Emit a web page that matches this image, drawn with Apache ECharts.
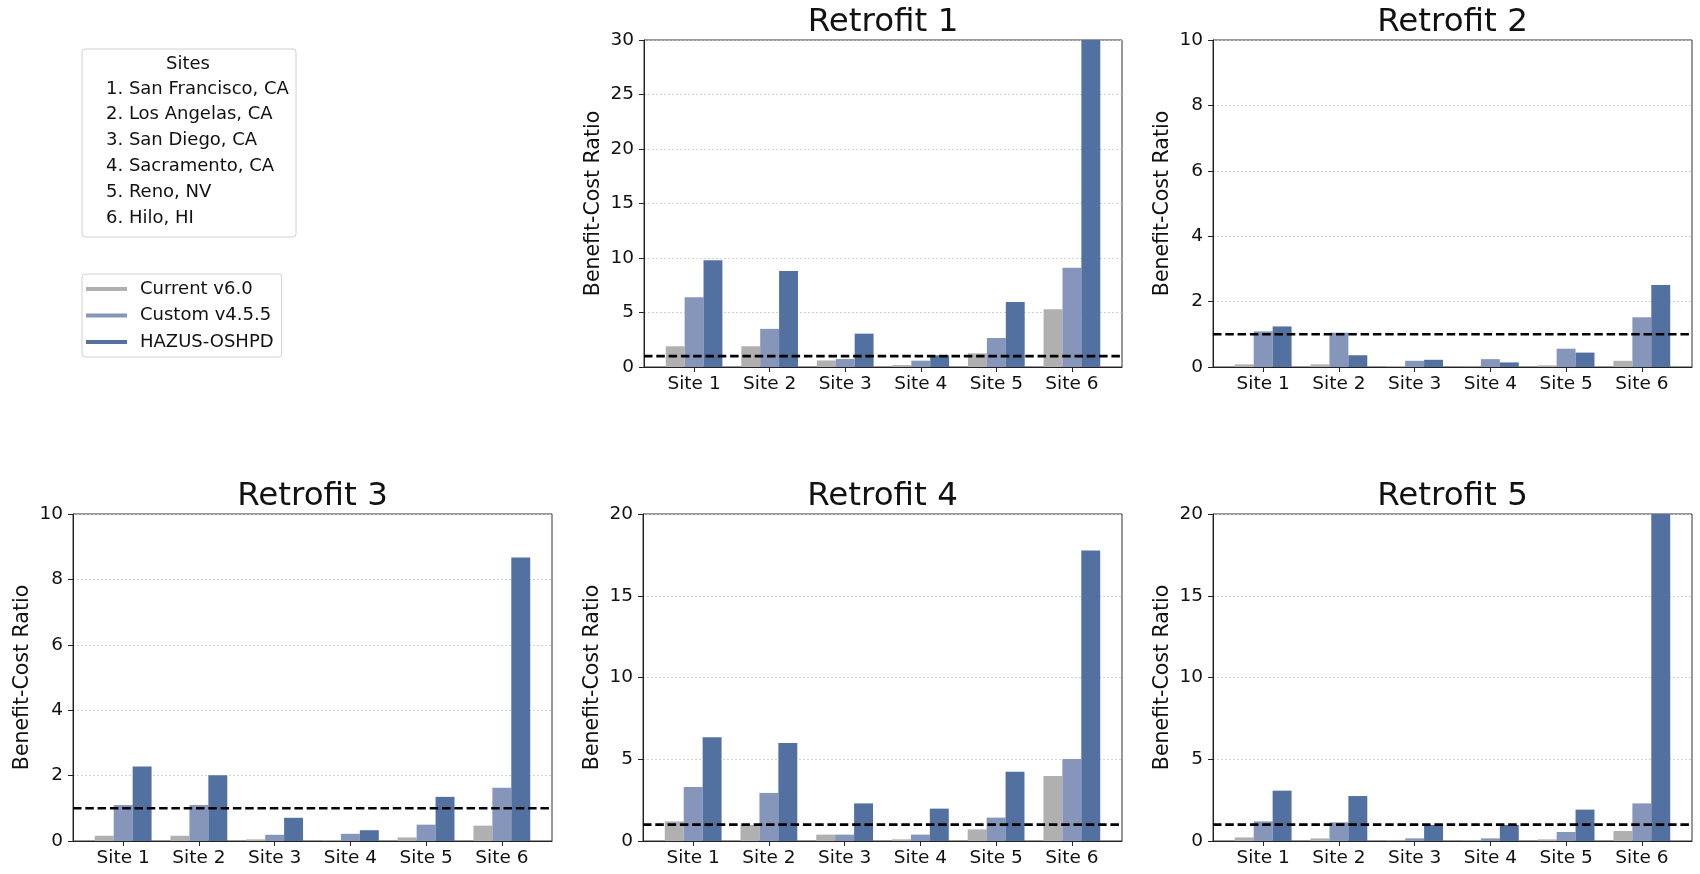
<!DOCTYPE html>
<html>
<head>
<meta charset="utf-8">
<script src="https://cdn.jsdelivr.net/npm/echarts@6/dist/echarts.min.js"></script>
<style>
  html, body { margin: 0; padding: 0; background: #fff; }
  #chart { width: 1700px; height: 874px; }
</style>
</head>
<body>
<div id="chart"></div>
<script>
// ---------------- data ----------------
const sites = ['Site 1', 'Site 2', 'Site 3', 'Site 4', 'Site 5', 'Site 6'];
const seriesNames = ['Current v6.0', 'Custom v4.5.5', 'HAZUS-OSHPD'];
const panelTitles = ['Retrofit 1', 'Retrofit 2', 'Retrofit 3', 'Retrofit 4', 'Retrofit 5'];
const siteNames = ['1. San Francisco, CA', '2. Los Angelas, CA', '3. San Diego, CA',
                   '4. Sacramento, CA', '5. Reno, NV', '6. Hilo, HI'];

const r1Current = [1.9, 1.9, 0.6, 0.18, 1.25, 5.3];
const r1Custom  = [6.4, 3.5, 0.73, 0.58, 2.66, 9.1];
const r1Hazus   = [9.8, 8.8, 3.06, 1.07, 5.97, 30];

const r2Current = [0.08, 0.08, 0.03, 0.01, 0.05, 0.19];
const r2Custom  = [1.09, 1.05, 0.19, 0.24, 0.56, 1.52];
const r2Hazus   = [1.24, 0.36, 0.22, 0.14, 0.44, 2.51];

const r3Current = [0.16, 0.16, 0.05, 0.02, 0.11, 0.47];
const r3Custom  = [1.1, 1.1, 0.19, 0.22, 0.5, 1.63];
const r3Hazus   = [2.28, 2.01, 0.71, 0.33, 1.35, 8.67];

const r4Current = [1.2, 0.98, 0.39, 0.1, 0.71, 3.98];
const r4Custom  = [3.3, 2.94, 0.39, 0.39, 1.43, 5.02];
const r4Hazus   = [6.34, 5.99, 2.3, 1.98, 4.24, 17.76];

const r5Current = [0.22, 0.16, 0.04, 0.04, 0.1, 0.61];
const r5Custom  = [1.2, 1.14, 0.16, 0.16, 0.55, 2.3];
const r5Hazus   = [3.08, 2.75, 0.98, 0.98, 1.92, 20];

const yMaxes = [30, 10, 10, 20, 20];
const yTicks = [5, 2, 2, 5, 5];
const threshold = 1;

// ---------------- layout / styles ----------------
const panelData = [
  [r1Current, r1Custom, r1Hazus],
  [r2Current, r2Custom, r2Hazus],
  [r3Current, r3Custom, r3Hazus],
  [r4Current, r4Custom, r4Hazus],
  [r5Current, r5Custom, r5Hazus]
];
const boxes = [
  { L: 644, T: 40, W: 478 },
  { L: 1213, T: 40, W: 479 },
  { L: 73, T: 514, W: 479 },
  { L: 643, T: 514, W: 479 },
  { L: 1213, T: 514, W: 479 }
];
const H = 327;
const colors = ['#b0b0b0', '#8596ba', '#5270a0'];
const FONT = 'DejaVu Sans';
const TXT = '#111';
const barW = 0.25;
const margin = 0.05 * (5 + 3 * barW);
const lo = -1.5 * barW - margin, hi = 5 + 1.5 * barW + margin;

const grid = [], xAxis = [], yAxis = [], series = [], graphic = [];

boxes.forEach((b, i) => {
  const unit = b.W / (hi - lo);
  const innerLeft = b.L + (-0.5 - lo) * unit;
  const innerW = 6 * unit;
  const og = 2 * i, ig = 2 * i + 1;
  grid.push({ left: b.L, top: b.T, width: b.W, height: H, show: true,
              borderColor: '#333', borderWidth: 1, outerBoundsMode: 'none', containLabel: false });
  grid.push({ left: innerLeft, top: b.T, width: innerW, height: H, show: false,
              outerBoundsMode: 'none', containLabel: false });
  xAxis.push({ type: 'value', gridIndex: og, min: lo, max: hi,
               axisLine: { show: true, onZero: false, lineStyle: { color: '#222', width: 1 } },
               axisTick: { show: false }, axisLabel: { show: false }, splitLine: { show: false } });
  xAxis.push({ type: 'category', gridIndex: ig, data: sites,
               axisLine: { show: false },
               axisTick: { show: true, alignWithLabel: true, length: 5, lineStyle: { color: '#222' } },
               axisLabel: { fontFamily: FONT, fontSize: 18.5, color: TXT, margin: 8 } });
  yAxis.push({ type: 'value', gridIndex: og, min: 0, max: yMaxes[i], interval: yTicks[i],
               name: 'Benefit-Cost Ratio', nameLocation: 'middle', nameGap: 40,
               nameTextStyle: { fontFamily: FONT, fontSize: 20.5, color: TXT },
               axisLine: { show: true, onZero: false, lineStyle: { color: '#222', width: 1 } },
               axisTick: { show: true, length: 5, lineStyle: { color: '#222' } },
               axisLabel: { fontFamily: FONT, fontSize: 18.5, color: TXT, margin: 10 },
               splitLine: { show: true, lineStyle: { color: '#c8c8c8', width: 0.8, type: [2, 2] } } });
  yAxis.push({ type: 'value', gridIndex: ig, min: 0, max: yMaxes[i], interval: yTicks[i], show: false,
               splitLine: { show: false } });

  panelData[i].forEach((vals, k) => {
    series.push({ type: 'bar', name: seriesNames[k], xAxisIndex: ig, yAxisIndex: ig,
                  data: vals, barWidth: barW * unit, barGap: '0%',
                  itemStyle: { color: colors[k] }, emphasis: { disabled: true }, z: 2 });
  });
  series.push({ type: 'line', xAxisIndex: og, yAxisIndex: og, symbol: 'none', silent: true,
                data: [[lo, threshold], [hi, threshold]],
                lineStyle: { color: '#000', width: 2.6, type: [8.5, 3.8] }, z: 6 });

  graphic.push({ type: 'text', x: b.L + b.W / 2, y: b.T - 17,
                 style: { text: panelTitles[i], font: '32.5px "DejaVu Sans"', fill: TXT,
                          textAlign: 'center', textVerticalAlign: 'middle' } });
});

// Sites text box
graphic.push({ type: 'rect', shape: { x: 82, y: 49, width: 214, height: 188, r: 3 },
               style: { fill: '#fff', stroke: '#d0d0d0', lineWidth: 1 } });
graphic.push({ type: 'text', x: 188, y: 64,
               style: { text: 'Sites', font: '18px "DejaVu Sans"', fill: TXT,
                        textAlign: 'center', textVerticalAlign: 'middle' } });
siteNames.forEach((s, k) => {
  graphic.push({ type: 'text', x: 106, y: 89 + k * 25.8,
                 style: { text: s, font: '18px "DejaVu Sans"', fill: TXT,
                          textAlign: 'left', textVerticalAlign: 'middle' } });
});

const option = {
  animation: false,
  backgroundColor: '#fff',
  grid, xAxis, yAxis, series, graphic,
  legend: {
    data: seriesNames, orient: 'vertical', left: 82, top: 274,
    icon: 'rect', itemWidth: 41, itemHeight: 4, itemGap: 8.5,
    padding: [6, 8, 6, 4], borderColor: '#d0d0d0', borderWidth: 1, borderRadius: 3,
    backgroundColor: '#fff', selectedMode: false,
    textStyle: { fontFamily: FONT, fontSize: 18, color: TXT, lineHeight: 18, padding: [0, 0, 0, 8] }
  }
};

const chart = echarts.init(document.getElementById('chart'), null, { renderer: 'canvas' });
chart.setOption(option);
</script>
</body>
</html>
